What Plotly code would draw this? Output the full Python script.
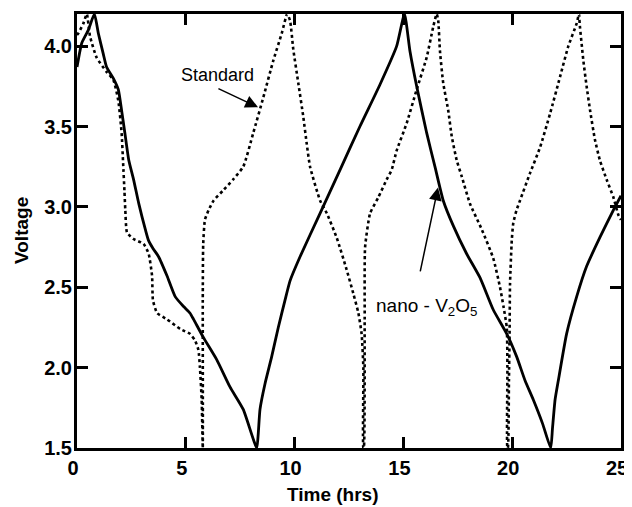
import plotly.graph_objects as go

# ---- data ----
nano_time = [0.0, 0.22, 0.52, 0.80, 0.98, 1.21, 1.36, 1.67, 1.90, 2.05, 2.20, 2.38, 2.60, 2.84, 3.14,
             3.29, 3.50, 3.75, 4.14, 4.52, 4.90, 5.19, 5.36, 5.80, 6.42, 7.03, 7.64, 8.26,
             8.33, 8.41, 8.64, 8.95, 9.25, 9.56, 9.79, 10.25, 11.17, 12.12, 13.0, 13.92, 14.69, 15.05,
             15.30, 15.61, 16.07, 16.45, 16.83, 17.30, 17.90, 18.52, 19.13, 19.75, 20.20, 20.59, 20.97,
             21.40, 21.77,
             21.85, 21.97, 22.12, 22.50, 22.96, 23.42, 24.03, 24.65, 25.0]
nano_voltage = [3.87, 4.02, 4.10, 4.20, 4.08, 3.95, 3.87, 3.80, 3.73, 3.60, 3.46, 3.29, 3.17, 3.02, 2.86,
                2.79, 2.74, 2.69, 2.57, 2.44, 2.38, 2.34, 2.30, 2.19, 2.05, 1.88, 1.74, 1.50,
                1.59, 1.74, 1.90, 2.07, 2.25, 2.42, 2.54, 2.69, 2.96, 3.24, 3.50, 3.76, 4.00, 4.20,
                3.97, 3.75, 3.46, 3.25, 3.04, 2.88, 2.71, 2.56, 2.36, 2.21, 2.07, 1.92, 1.80,
                1.65, 1.50,
                1.62, 1.80, 1.92, 2.21, 2.44, 2.63, 2.81, 2.98, 3.07]

std_time = [0.0, 0.06, 0.29, 0.45, 0.60, 0.90, 1.36, 1.67, 1.90, 2.05, 2.12, 2.18, 2.22, 2.30, 2.60,
            3.06, 3.29, 3.45, 3.49, 3.68, 4.14, 4.75, 5.19, 5.42, 5.58, 5.65, 5.73, 5.78,
            5.78, 5.80, 5.88, 6.05, 6.28, 6.70, 7.17, 7.64, 8.10, 8.56, 9.02, 9.41, 9.66,
            9.79, 9.94, 10.17, 10.40, 10.56, 10.71, 11.17, 11.48, 11.93, 12.39, 12.70, 12.93, 13.08,
            13.16, 13.16,
            13.18, 13.22, 13.24, 13.47, 13.85, 14.23, 14.46, 14.69, 15.15, 15.61, 16.07, 16.37, 16.53,
            16.60, 16.68, 16.83, 17.06, 17.22, 17.45, 17.68, 18.06, 18.60, 19.13, 19.44, 19.60, 19.75,
            19.78, 19.78,
            19.80, 19.85, 19.88, 19.90, 19.98, 20.05, 20.20, 20.36, 20.82, 21.28, 21.74, 22.20, 22.58,
            22.96, 23.07,
            23.10, 23.27, 23.42, 23.58, 23.80, 24.03, 24.34, 24.65, 24.88, 25.0]
std_voltage = [4.07, 4.08, 4.14, 4.20, 4.06, 3.93, 3.84, 3.79, 3.66, 3.46, 3.27, 3.10, 2.98, 2.84, 2.80,
               2.77, 2.71, 2.57, 2.42, 2.34, 2.30, 2.24, 2.21, 2.17, 2.11, 2.00, 1.80, 1.50,
               2.42, 2.77, 2.92, 2.98, 3.04, 3.10, 3.17, 3.25, 3.46, 3.68, 3.91, 4.08, 4.20,
               4.16, 3.98, 3.77, 3.56, 3.39, 3.25, 3.04, 2.96, 2.81, 2.61, 2.46, 2.34, 2.21,
               2.00, 1.50,
               1.50, 2.30, 2.75, 2.96, 3.06, 3.17, 3.23, 3.35, 3.52, 3.73, 3.93, 4.12, 4.20,
               4.16, 3.97, 3.77, 3.60, 3.44, 3.29, 3.19, 3.02, 2.86, 2.68, 2.50, 2.38, 2.25,
               2.00, 1.50,
               1.50, 1.92, 2.21, 2.52, 2.79, 2.90, 2.98, 3.04, 3.21, 3.37, 3.58, 3.81, 4.00,
               4.14, 4.20,
               4.14, 3.91, 3.75, 3.60, 3.42, 3.29, 3.17, 3.06, 2.95, 2.92]

x_ticks = [0, 5, 10, 15, 20, 25]
y_ticks = [1.5, 2.0, 2.5, 3.0, 3.5, 4.0]
x_title = "Time (hrs)"
y_title = "Voltage"
std_label = "Standard"
nano_label = "nano - V<sub>2</sub>O<sub>5</sub>"

FONT = "Arial, Liberation Sans, sans-serif"

fig = go.Figure()
fig.add_trace(go.Scatter(x=std_time, y=std_voltage, mode="lines",
                         line=dict(color="black", width=2.6, dash="dot", shape="spline", smoothing=0.5),
                         showlegend=False))
fig.add_trace(go.Scatter(x=nano_time, y=nano_voltage, mode="lines",
                         line=dict(color="black", width=2.8, shape="spline", smoothing=0.5),
                         showlegend=False))

# text labels
fig.add_annotation(x=6.46, y=3.82, xref="x", yref="y", text=std_label, showarrow=False,
                   font=dict(family=FONT, size=18, color="black"), xanchor="center", yanchor="middle")
fig.add_annotation(x=16.04, y=2.38, xref="x", yref="y", text=nano_label, showarrow=False,
                   font=dict(family=FONT, size=19, color="black"), xanchor="center", yanchor="middle")
# arrows
fig.add_annotation(x=8.32, y=3.62, ax=6.43, ay=3.74, xref="x", yref="y", axref="x", ayref="y",
                   text="", showarrow=True, arrowhead=2, arrowsize=1.7, arrowwidth=1.5,
                   arrowcolor="black", standoff=0, startstandoff=0)
fig.add_annotation(x=16.59, y=3.12, ax=15.76, ay=2.59, xref="x", yref="y", axref="x", ayref="y",
                   text="", showarrow=True, arrowhead=2, arrowsize=1.7, arrowwidth=1.5,
                   arrowcolor="black", standoff=0, startstandoff=0)

# axis titles
fig.add_annotation(x=(333 - 77) / 544, y=0, xref="paper", yref="paper", yshift=-46,
                   text=f"<b>{x_title}</b>", showarrow=False, xanchor="center", yanchor="middle",
                   font=dict(family=FONT, size=19, color="black"))
fig.add_annotation(x=0, y=0.5, xref="paper", yref="paper", xshift=-56,
                   text=f"<b>{y_title}</b>", showarrow=False, xanchor="center", yanchor="middle",
                   textangle=-90, font=dict(family=FONT, size=19, color="black"))

axis_common = dict(showgrid=False, zeroline=False, showline=True, linecolor="black", linewidth=3,
                   mirror="allticks", ticks="inside", ticklen=11, tickwidth=2.5, tickcolor="black",
                   automargin=False, ticklabeloverflow="allow",
                   tickfont=dict(family=FONT, size=20, color="black", weight="bold"))

fig.update_xaxes(range=[0, 25], tickvals=x_ticks, ticktext=[str(v) for v in x_ticks],
                 ticklabelshift=-4, **axis_common)
fig.update_yaxes(range=[1.5, 4.2], tickvals=y_ticks, ticktext=[f"{v:.1f}" for v in y_ticks],
                 ticklabelstandoff=-2, **axis_common)

# the page body adds an 8px offset, so the figure is sized to fit the 632x507 window
fig.update_layout(width=624, height=499, margin=dict(l=69, r=11, t=6, b=59),
                  plot_bgcolor="white", paper_bgcolor="white",
                  font=dict(family=FONT, color="black"))

fig.write_html("out.html")
